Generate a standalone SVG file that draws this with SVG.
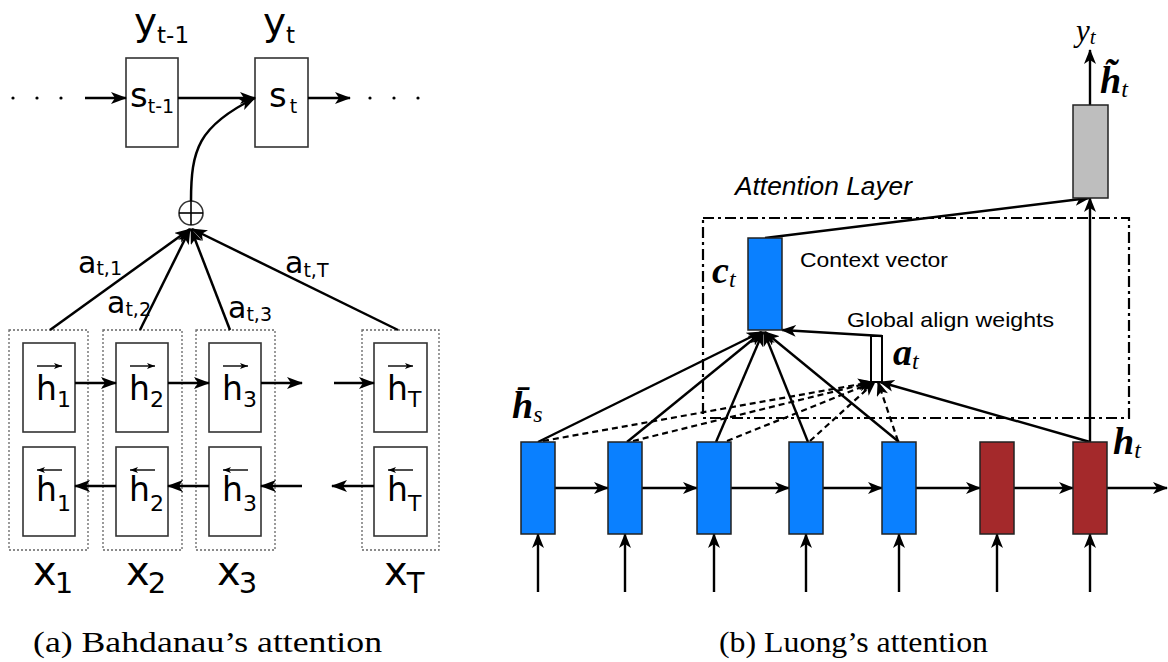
<svg xmlns="http://www.w3.org/2000/svg" width="1168" height="662" viewBox="0 0 1168 662">
<style>
.box{fill:#fff;stroke:#333;stroke-width:1.6}
.dot{fill:none;stroke:#666;stroke-width:1.3;stroke-dasharray:2 2}
.ln{fill:none;stroke:#000;stroke-width:2.5}
.lnr{fill:none;stroke:#000;stroke-width:2.4}
.dash{fill:none;stroke:#000;stroke-width:2.2;stroke-dasharray:6 4}
.thin{fill:none;stroke:#000;stroke-width:1.4}
.sans{font-family:"DejaVu Sans",sans-serif;fill:#000}
.hv{font-family:"Liberation Sans",Arial,sans-serif;fill:#000}
.math{font-family:"Liberation Serif","DejaVu Serif",serif;font-style:italic;fill:#000}
.mb{font-size:38px;font-weight:bold}
.sub{font-size:24px;font-weight:normal}
.cap{font-family:"Liberation Serif","DejaVu Serif",serif;font-size:29px;fill:#000}
.blue{fill:#0a80ff;stroke:#222;stroke-width:1.5}
.red{fill:#a4292b;stroke:#222;stroke-width:1.5}
.gray{fill:#bebebe;stroke:#222;stroke-width:1.5}
</style>
<defs>
<marker id="ah" viewBox="0 0 16 12" refX="15" refY="6" markerWidth="16" markerHeight="12" markerUnits="userSpaceOnUse" orient="auto">
<path d="M0,0 L16,6 L0,12 L4,6 z" fill="#000"/>
</marker>
<marker id="ahr" viewBox="0 0 15 12" refX="14" refY="6" markerWidth="15" markerHeight="12" markerUnits="userSpaceOnUse" orient="auto">
<path d="M0,0 L15,6 L0,12 L4,6 z" fill="#000"/>
</marker>
<marker id="ahs" viewBox="0 0 8 6" refX="8" refY="3" markerWidth="8" markerHeight="6" markerUnits="userSpaceOnUse" orient="auto">
<path d="M0,0 L8,3 L0,6 L2,3 z" fill="#000"/>
</marker>
</defs>

<!-- ===== Left: Bahdanau ===== -->
<g id="dots">
<circle cx="13" cy="98" r="1.6"/><circle cx="37" cy="98" r="1.6"/><circle cx="61" cy="98" r="1.6"/>
<circle cx="370" cy="98" r="1.6"/><circle cx="394" cy="98" r="1.6"/><circle cx="418" cy="98" r="1.6"/>
</g>
<g id="s_tm1">
<rect class="box" x="126" y="58" width="52" height="89"/>
<text class="sans" x="130" y="107" font-size="34">s<tspan font-size="19" dy="6">t-1</tspan></text>
<text class="sans" x="134" y="35" font-size="39">y<tspan font-size="23" dy="8">t-1</tspan></text>
</g>
<g id="s_t">
<rect class="box" x="255" y="58" width="53" height="89"/>
<text class="sans" x="269" y="107" font-size="34">s<tspan font-size="19" dy="6" dx="3">t</tspan></text>
<text class="sans" x="263" y="35" font-size="39">y<tspan font-size="23" dy="8">t</tspan></text>
</g>
<g id="oplus">
<circle cx="191" cy="213" r="12" fill="#fff" stroke="#333" stroke-width="1.6"/>
<line x1="179" y1="213" x2="203" y2="213" stroke="#000" stroke-width="1.6"/>
<line x1="191" y1="201" x2="191" y2="225" stroke="#000" stroke-width="1.6"/>
</g>
<g id="enc1">
<rect class="dot" x="9" y="330" width="79" height="220"/>
<rect class="box" x="23" y="343" width="52" height="89"/>
<rect class="box" x="23" y="447" width="52" height="89"/>
<text class="sans" x="36" y="400" font-size="33">h<tspan font-size="22" dy="7">1</tspan></text>
<text class="sans" x="36" y="501" font-size="33">h<tspan font-size="22" dy="10">1</tspan></text>
<text class="sans" x="33" y="585" font-size="40">x<tspan font-size="29" dy="8" dx="-2">1</tspan></text>
</g>
<g id="enc2">
<rect class="dot" x="103" y="330" width="79" height="220"/>
<rect class="box" x="116" y="343" width="52" height="89"/>
<rect class="box" x="116" y="447" width="52" height="89"/>
<text class="sans" x="129" y="400" font-size="33">h<tspan font-size="22" dy="7">2</tspan></text>
<text class="sans" x="129" y="501" font-size="33">h<tspan font-size="22" dy="10">2</tspan></text>
<text class="sans" x="126" y="585" font-size="40">x<tspan font-size="29" dy="8" dx="-2">2</tspan></text>
</g>
<g id="enc3">
<rect class="dot" x="196" y="330" width="79" height="220"/>
<rect class="box" x="209" y="343" width="52" height="89"/>
<rect class="box" x="209" y="447" width="52" height="89"/>
<text class="sans" x="222" y="400" font-size="33">h<tspan font-size="22" dy="7">3</tspan></text>
<text class="sans" x="222" y="501" font-size="33">h<tspan font-size="22" dy="10">3</tspan></text>
<text class="sans" x="217" y="585" font-size="40">x<tspan font-size="29" dy="8" dx="-2">3</tspan></text>
</g>
<g id="encT">
<rect class="dot" x="362" y="330" width="77" height="220"/>
<rect class="box" x="374" y="343" width="53" height="89"/>
<rect class="box" x="374" y="447" width="53" height="89"/>
<text class="sans" x="387" y="400" font-size="33">h<tspan font-size="22" dy="7">T</tspan></text>
<text class="sans" x="387" y="501" font-size="33">h<tspan font-size="22" dy="10">T</tspan></text>
<text class="sans" x="384" y="585" font-size="40">x<tspan font-size="29" dy="8" dx="-1">T</tspan></text>
</g>
<g id="overarrows">
<line class="thin" x1="37" y1="366" x2="62" y2="366" marker-end="url(#ahs)"/>
<line class="thin" x1="130" y1="366" x2="155" y2="366" marker-end="url(#ahs)"/>
<line class="thin" x1="223" y1="366" x2="248" y2="366" marker-end="url(#ahs)"/>
<line class="thin" x1="388" y1="366" x2="413" y2="366" marker-end="url(#ahs)"/>
<line class="thin" x1="62" y1="470" x2="37" y2="470" marker-end="url(#ahs)"/>
<line class="thin" x1="155" y1="470" x2="130" y2="470" marker-end="url(#ahs)"/>
<line class="thin" x1="248" y1="470" x2="223" y2="470" marker-end="url(#ahs)"/>
<line class="thin" x1="413" y1="470" x2="388" y2="470" marker-end="url(#ahs)"/>
</g>
<g id="weights">
<text class="sans" x="78" y="273" font-size="30">a<tspan font-size="19" dy="2">t,1</tspan></text>
<text class="sans" x="107" y="313" font-size="30">a<tspan font-size="19" dy="3">t,2</tspan></text>
<text class="sans" x="228" y="318" font-size="30">a<tspan font-size="19" dy="3">t,3</tspan></text>
<text class="sans" x="285" y="273" font-size="30">a<tspan font-size="19" dy="4">t,T</tspan></text>
</g>
<g id="connectors-left">
<line class="ln" x1="85" y1="98" x2="126" y2="98" marker-end="url(#ah)"/>
<line class="ln" x1="178" y1="98" x2="255" y2="98" marker-end="url(#ah)"/>
<line class="ln" x1="308" y1="98" x2="350" y2="98" marker-end="url(#ah)"/>
<path class="ln" d="M191,201 C191,150 198,126 255,98" marker-end="url(#ah)"/>
<line class="ln" x1="50" y1="330" x2="190" y2="229" marker-end="url(#ah)"/>
<line class="ln" x1="140" y1="330" x2="190" y2="229" marker-end="url(#ah)"/>
<line class="ln" x1="230" y1="330" x2="191" y2="229" marker-end="url(#ah)"/>
<line class="ln" x1="398" y1="330" x2="192" y2="229" marker-end="url(#ah)"/>
<line class="ln" x1="75" y1="383" x2="116" y2="383" marker-end="url(#ah)"/>
<line class="ln" x1="168" y1="383" x2="209" y2="383" marker-end="url(#ah)"/>
<line class="ln" x1="261" y1="383" x2="302" y2="383" marker-end="url(#ah)"/>
<line class="ln" x1="334" y1="383" x2="374" y2="383" marker-end="url(#ah)"/>
<line class="ln" x1="116" y1="486" x2="75" y2="486" marker-end="url(#ah)"/>
<line class="ln" x1="209" y1="486" x2="168" y2="486" marker-end="url(#ah)"/>
<line class="ln" x1="302" y1="486" x2="261" y2="486" marker-end="url(#ah)"/>
<line class="ln" x1="374" y1="486" x2="332" y2="486" marker-end="url(#ah)"/>
</g>
<text class="cap" x="33" y="652" textLength="349" lengthAdjust="spacingAndGlyphs">(a) Bahdanau’s attention</text>

<!-- ===== Right: Luong ===== -->
<g id="attention-layer">
<rect x="703" y="218" width="426" height="200" fill="none" stroke="#000" stroke-width="2.2" stroke-dasharray="11 4 3 4"/>
<text class="hv" x="735" y="195" font-size="25" font-style="italic" textLength="177" lengthAdjust="spacingAndGlyphs">Attention Layer</text>
</g>
<g id="connectors-right">
<line class="lnr" x1="538" y1="442" x2="761" y2="332" marker-end="url(#ahr)"/>
<line class="lnr" x1="627" y1="442" x2="762" y2="332" marker-end="url(#ahr)"/>
<line class="lnr" x1="716" y1="442" x2="763" y2="332" marker-end="url(#ahr)"/>
<line class="lnr" x1="808" y1="442" x2="764" y2="332" marker-end="url(#ahr)"/>
<line class="lnr" x1="899" y1="442" x2="765" y2="332" marker-end="url(#ahr)"/>
<line class="dash" x1="543" y1="441" x2="872" y2="382" marker-end="url(#ahr)"/>
<line class="dash" x1="633" y1="441" x2="873" y2="382" marker-end="url(#ahr)"/>
<line class="dash" x1="727" y1="441" x2="874" y2="382" marker-end="url(#ahr)"/>
<line class="dash" x1="810" y1="441" x2="875" y2="382" marker-end="url(#ahr)"/>
<line class="dash" x1="898" y1="441" x2="878" y2="382" marker-end="url(#ahr)"/>
<line class="lnr" x1="1090" y1="442" x2="880" y2="382" marker-end="url(#ahr)"/>
<line class="lnr" x1="1090" y1="442" x2="1090" y2="198" marker-end="url(#ahr)"/>
<line class="lnr" x1="765" y1="238" x2="1089" y2="198" marker-end="url(#ahr)"/>
<line class="lnr" x1="1090" y1="105" x2="1090" y2="50" marker-end="url(#ahr)"/>
<line class="lnr" x1="555" y1="488" x2="608" y2="488" marker-end="url(#ahr)"/>
<line class="lnr" x1="642" y1="488" x2="697" y2="488" marker-end="url(#ahr)"/>
<line class="lnr" x1="731" y1="488" x2="789" y2="488" marker-end="url(#ahr)"/>
<line class="lnr" x1="823" y1="488" x2="882" y2="488" marker-end="url(#ahr)"/>
<line class="lnr" x1="916" y1="488" x2="980" y2="488" marker-end="url(#ahr)"/>
<line class="lnr" x1="1014" y1="488" x2="1073" y2="488" marker-end="url(#ahr)"/>
<line class="lnr" x1="1107" y1="488" x2="1167" y2="488" marker-end="url(#ahr)"/>
<line class="lnr" x1="538" y1="592" x2="538" y2="534" marker-end="url(#ahr)"/>
<line class="lnr" x1="625" y1="592" x2="625" y2="534" marker-end="url(#ahr)"/>
<line class="lnr" x1="714" y1="592" x2="714" y2="534" marker-end="url(#ahr)"/>
<line class="lnr" x1="806" y1="592" x2="806" y2="534" marker-end="url(#ahr)"/>
<line class="lnr" x1="899" y1="592" x2="899" y2="534" marker-end="url(#ahr)"/>
<line class="lnr" x1="997" y1="592" x2="997" y2="534" marker-end="url(#ahr)"/>
<line class="lnr" x1="1090" y1="592" x2="1090" y2="534" marker-end="url(#ahr)"/>
</g>
<g id="a_t">
<rect x="871" y="336" width="11" height="46" fill="#fff" stroke="#000" stroke-width="2"/>
<line class="lnr" x1="882" y1="336" x2="782" y2="330" marker-end="url(#ahr)"/>
<text class="math mb" x="893" y="365">a<tspan class="sub" dy="4">t</tspan></text>
<text class="hv" x="847" y="327" font-size="21" textLength="207" lengthAdjust="spacingAndGlyphs">Global align weights</text>
</g>
<g id="c_t">
<rect class="blue" x="748" y="238" width="34" height="92"/>
<text class="math mb" x="712" y="283">c<tspan class="sub" dy="4">t</tspan></text>
<text class="hv" x="800" y="267" font-size="21" textLength="148" lengthAdjust="spacingAndGlyphs">Context vector</text>
</g>
<g id="h_tilde">
<rect class="gray" x="1073" y="105" width="35" height="93"/>
<text class="math mb" x="1100" y="93">h̃<tspan class="sub" dy="4">t</tspan></text>
<text class="math" x="1076" y="41" font-size="31">y<tspan font-size="21" dy="3">t</tspan></text>
</g>
<g id="src1"><rect class="blue" x="521" y="442" width="34" height="92"/>
<text class="math mb" x="512" y="418">h̄<tspan class="sub" dy="4">s</tspan></text></g>
<g id="src2"><rect class="blue" x="608" y="442" width="34" height="92"/></g>
<g id="src3"><rect class="blue" x="697" y="442" width="34" height="92"/></g>
<g id="src4"><rect class="blue" x="789" y="442" width="34" height="92"/></g>
<g id="src5"><rect class="blue" x="882" y="442" width="34" height="92"/></g>
<g id="tgt1"><rect class="red" x="980" y="442" width="34" height="92"/></g>
<g id="tgt2"><rect class="red" x="1073" y="442" width="34" height="92"/>
<text class="math mb" x="1113" y="454">h<tspan class="sub" dy="4">t</tspan></text></g>
<text class="cap" x="719" y="652" textLength="269" lengthAdjust="spacingAndGlyphs">(b) Luong’s attention</text>
</svg>
